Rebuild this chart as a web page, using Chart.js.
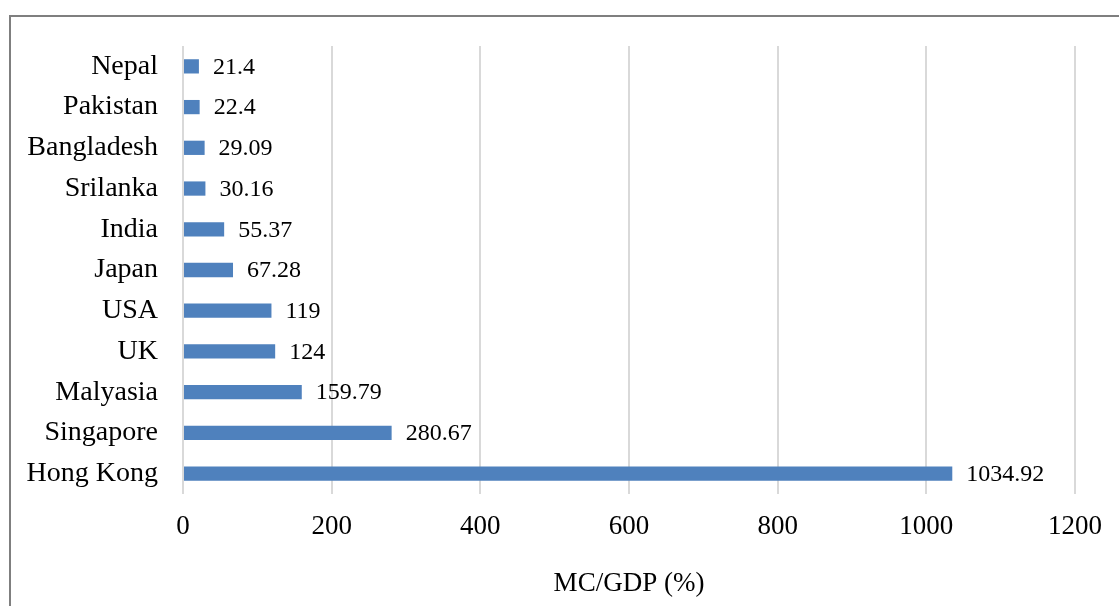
<!DOCTYPE html>
<html>
<head>
<meta charset="utf-8">
<script src="https://cdn.jsdelivr.net/npm/chart.js@4.4.0/dist/chart.umd.min.js"></script>
<style>
  html, body { margin: 0; padding: 0; background: #fff; }
  #wrap { width: 1119px; height: 606px; position: relative; }
</style>
</head>
<body>
<div id="wrap"><canvas id="chart" width="1119" height="606"></canvas></div>
<script>
const countries = ['Nepal', 'Pakistan', 'Bangladesh', 'Srilanka', 'India', 'Japan', 'USA', 'UK', 'Malyasia', 'Singapore', 'Hong Kong'];
const mcGdp = [21.4, 22.4, 29.09, 30.16, 55.37, 67.28, 119, 124, 159.79, 280.67, 1034.92];
const valueLabels = ['21.4', '22.4', '29.09', '30.16', '55.37', '67.28', '119', '124', '159.79', '280.67', '1034.92'];
const xTicks = [0, 200, 400, 600, 800, 1000, 1200];

const serif = "'Liberation Serif', 'Times New Roman', serif";

// outer frame (only top and left edges are visible in the picture)
const frame = {
    id: 'frame',
    beforeDraw(chart) {
        const ctx = chart.ctx;
        ctx.save();
        ctx.strokeStyle = '#7f7f7f';
        ctx.lineWidth = 2;
        ctx.beginPath();
        ctx.moveTo(10, 620);
        ctx.lineTo(10, 16);
        ctx.lineTo(1130, 16);
        ctx.stroke();
        ctx.restore();
    }
};

// value labels to the right of each bar
const valueText = {
    id: 'valueText',
    afterDatasetsDraw(chart) {
        const ctx = chart.ctx;
        const meta = chart.getDatasetMeta(0);
        ctx.save();
        ctx.font = '24px ' + serif;
        ctx.fillStyle = '#000';
        ctx.textAlign = 'left';
        ctx.textBaseline = 'middle';
        meta.data.forEach((bar, i) => {
            ctx.fillText(valueLabels[i], bar.x + 14, bar.y + 1);
        });
        ctx.restore();
    }
};

new Chart(document.getElementById('chart'), {
    type: 'bar',
    data: {
        labels: countries,
        datasets: [{
            data: mcGdp,
            backgroundColor: '#4f81bd',
            barPercentage: 0.35,
            categoryPercentage: 1
        }]
    },
    options: {
        indexAxis: 'y',
        responsive: false,
        animation: false,
        layout: { padding: { left: 0, right: 40, top: 46, bottom: 0 } },
        plugins: {
            legend: { display: false },
            tooltip: { enabled: false }
        },
        scales: {
            x: {
                min: 0,
                max: 1200,
                afterBuildTicks: scale => { scale.ticks = xTicks.map(v => ({ value: v })); },
                afterFit: scale => { scale.height = 606 - 494; },
                grid: { color: '#d9d9d9', lineWidth: 2, drawTicks: false },
                border: { display: false },
                ticks: {
                    color: '#000',
                    font: { family: serif, size: 27 },
                    padding: 17,
                    maxRotation: 0,
                    callback: v => String(v)
                },
                title: {
                    display: true,
                    text: 'MC/GDP (%)',
                    color: '#000',
                    font: { family: serif, size: 27 },
                    padding: { top: 0, bottom: 6 }
                }
            },
            y: {
                afterFit: scale => { scale.width = 183; },
                grid: { display: false, drawTicks: false },
                border: { display: false },
                ticks: { color: '#000', font: { family: serif, size: 28 }, padding: 25 }
            }
        }
    },
    plugins: [frame, valueText]
});
</script>
</body>
</html>
